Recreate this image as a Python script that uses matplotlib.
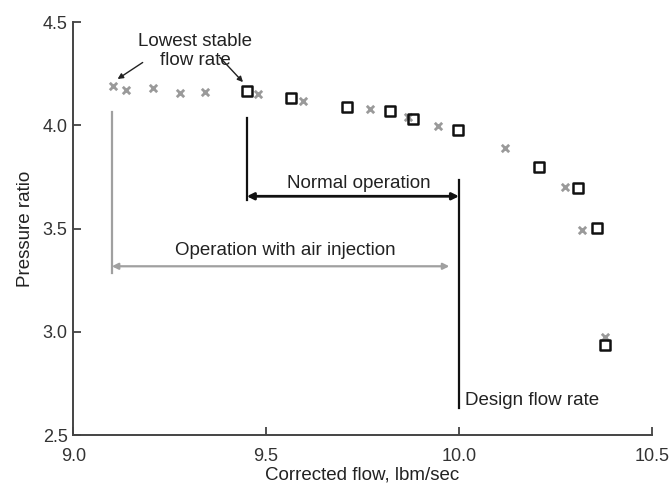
import matplotlib
matplotlib.use("Agg")
import matplotlib.pyplot as plt

plt.rcParams["font.family"] = ["Liberation Sans", "DejaVu Sans"]

# open squares (black)
sq_flow = [9.451, 9.565, 9.710, 9.821, 9.881, 9.997, 10.207, 10.308, 10.358, 10.378]
sq_pr = [4.166, 4.132, 4.088, 4.069, 4.030, 3.977, 3.798, 3.696, 3.502, 2.936]

# crosses (grey)
x_flow = [9.104, 9.137, 9.207, 9.277, 9.342, 9.479, 9.596, 9.769, 9.868, 9.946,
          10.119, 10.275, 10.319, 10.378]
x_pr = [4.190, 4.171, 4.180, 4.156, 4.161, 4.151, 4.117, 4.079, 4.040, 3.996,
        3.890, 3.701, 3.493, 2.975]

x_ticks = [9.0, 9.5, 10.0, 10.5]
y_ticks = [2.5, 3.0, 3.5, 4.0, 4.5]

LOWEST_NORMAL = 9.45
LOWEST_INJ = 9.10
DESIGN = 10.0

fig = plt.figure(figsize=(6.72, 4.83), dpi=100)
ax = fig.add_axes([0.109, 0.099, 0.861, 0.855])

ax.scatter(x_flow, x_pr, marker="x", s=28, color="#9a9a9a", linewidths=2.0, zorder=3)
ax.scatter(sq_flow, sq_pr, marker="s", s=48, facecolors="none", edgecolors="#111111",
           linewidths=1.8, zorder=4)

# reference lines
ax.plot([LOWEST_INJ, LOWEST_INJ], [4.065, 3.285], color="#a0a0a0", lw=1.6)
ax.plot([LOWEST_NORMAL, LOWEST_NORMAL], [4.035, 3.64], color="#111111", lw=1.6)
ax.plot([DESIGN, DESIGN], [3.735, 2.63], color="#111111", lw=1.6)

# range arrows
ax.annotate("", xy=(LOWEST_INJ, 3.318), xytext=(9.975, 3.318),
            arrowprops=dict(arrowstyle="<|-|>", color="#a0a0a0", lw=1.6,
                            mutation_scale=9, shrinkA=0, shrinkB=0))
ax.annotate("", xy=(LOWEST_NORMAL, 3.657), xytext=(DESIGN, 3.657),
            arrowprops=dict(arrowstyle="<|-|>", color="#111111", lw=2.0,
                            mutation_scale=10, shrinkA=0, shrinkB=0))

txt = dict(fontsize=13.5, color="#222222")
ax.text(9.74, 3.72, "Normal operation", ha="center", va="center", **txt)
ax.text(9.55, 3.395, "Operation with air injection", ha="center", va="center", **txt)
ax.text(10.015, 2.67, "Design flow rate", ha="left", va="center", **txt)
ax.text(9.316, 4.36, "Lowest stable\nflow rate", ha="center", va="center",
        linespacing=1.1, **txt)
ax.annotate("", xy=(9.115, 4.225), xytext=(9.18, 4.305),
            arrowprops=dict(arrowstyle="-|>", color="#222222", lw=1.0,
                            mutation_scale=8, shrinkA=0, shrinkB=0))
ax.annotate("", xy=(9.44, 4.21), xytext=(9.38, 4.33),
            arrowprops=dict(arrowstyle="-|>", color="#222222", lw=1.0,
                            mutation_scale=8, shrinkA=0, shrinkB=0))

ax.set_xlim(9.0, 10.5)
ax.set_ylim(2.5, 4.5)
ax.set_xticks(x_ticks)
ax.set_xticklabels([f"{v:.1f}" for v in x_ticks])
ax.set_yticks(y_ticks)
ax.set_yticklabels([f"{v:.1f}" for v in y_ticks])
ax.tick_params(direction="in", length=6, width=1.2, labelsize=13, colors="#333333")
ax.tick_params(axis="x", pad=9)
ax.tick_params(axis="y", pad=4)
for side in ("top", "right"):
    ax.spines[side].set_visible(False)
for side in ("left", "bottom"):
    ax.spines[side].set_linewidth(1.4)
    ax.spines[side].set_color("#444444")

ax.set_xlabel("Corrected flow, lbm/sec", fontsize=13.5, color="#222222", labelpad=1)
ax.set_ylabel("Pressure ratio", fontsize=13.5, color="#222222", labelpad=6)

fig.savefig("out.png", dpi=100)
